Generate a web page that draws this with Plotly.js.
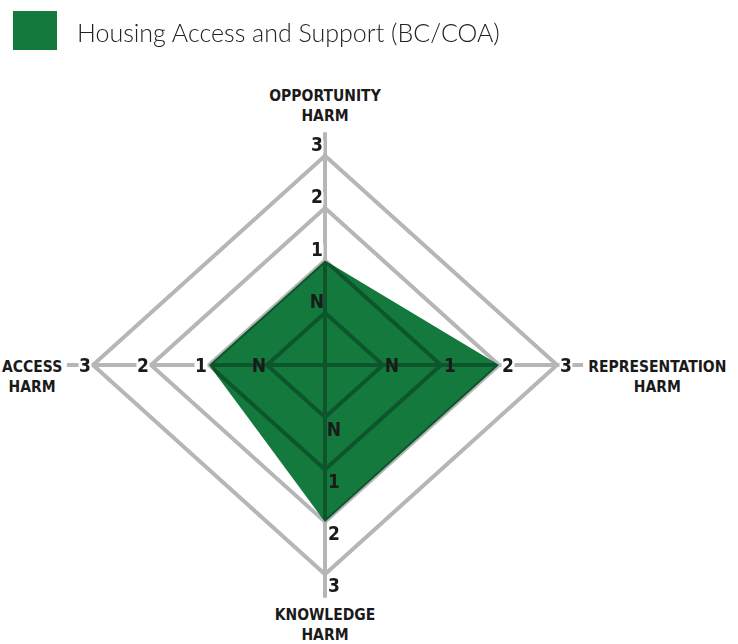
<!DOCTYPE html>
<html>
<head>
<meta charset="utf-8">
<script src="https://cdn.plot.ly/plotly-3.0.1.min.js"></script>
<style>html,body{margin:0;padding:0;background:#fff;}#chart{width:738px;height:644px;}</style>
</head>
<body>
<div id="chart"></div>
<script>
// ---- data ----
const seriesName = 'Housing Access and Support (BC/COA)';
const axisNames = ['OPPORTUNITY<br>HARM', 'REPRESENTATION<br>HARM', 'KNOWLEDGE<br>HARM', 'ACCESS<br>HARM'];
const scores = ['1', '2', '2', '1'];          // level read on each axis
const levelLabels = ['N', '1', '2', '3'];     // tick labels, rings 1..4

// ---- style / layout ----
const GREEN = '#13793d';
const dirs = [[0, 1], [1, 0], [0, -1], [-1, 0]];   // top, right, bottom, left
const PX_X = 58, PX_Y = 52.3;                     // px per unit
const CX = 325, CY = 365;                          // centre in px
const W = 738, H = 644;
const spokeLen = 4.45;
const tickOffsetPx = [[-8, 9.5], [9, -2], [9, -13.5], [-8, -2]];
const titleR = [4.93, 5.73, 5.0, 5.05];
const titleDyPx = [0, -13, 0, -13];
const labelFont = '"Liberation Sans Narrow", "DejaVu Sans Condensed", sans-serif';

const levelOf = s => levelLabels.indexOf(s) + 1;
const vals = scores.map(levelOf);

// filled data polygon
const polyX = [], polyY = [];
vals.forEach((v, i) => { polyX.push(dirs[i][0] * v); polyY.push(dirs[i][1] * v); });
polyX.push(polyX[0]); polyY.push(polyY[0]);

// grid: rings + spokes
const gx = [], gy = [];
levelLabels.forEach((_, k) => {
  const r = k + 1;
  dirs.concat([dirs[0]]).forEach(d => { gx.push(d[0] * r); gy.push(d[1] * r); });
  gx.push(null); gy.push(null);
});
gx.push(0, 0, null, -spokeLen, spokeLen); gy.push(-spokeLen, spokeLen, null, 0, 0);

// tick labels on every axis
const tx = [], ty = [], tt = [], tc = [];
dirs.forEach((d, i) => {
  levelLabels.forEach((lab, k) => {
    const r = k + 1;
    tx.push(d[0] * r + tickOffsetPx[i][0] / PX_X);
    ty.push(d[1] * r + tickOffsetPx[i][1] / PX_Y);
    tt.push(lab);
    tc.push(r >= vals[i] ? '#ffffff' : 'rgba(0,0,0,0)');
  });
});

// axis titles
const ax = dirs.map((d, i) => d[0] * titleR[i]);
const ay = dirs.map((d, i) => d[1] * titleR[i] + titleDyPx[i] / PX_Y);

const traces = [
  { type: 'scatter', x: polyX, y: polyY, mode: 'none', fill: 'toself', fillcolor: GREEN,
    hoverinfo: 'skip', showlegend: false, name: seriesName },
  { type: 'scatter', x: gx, y: gy, mode: 'lines', connectgaps: false,
    line: { color: '#000', width: 4 }, opacity: 0.29, hoverinfo: 'skip', showlegend: false },
  { type: 'scatter', x: tx, y: ty, mode: 'markers+text', text: tt, textposition: 'middle center',
    marker: { symbol: 'square', size: 13, color: tc, line: { width: 0 } },
    textfont: { family: labelFont, size: 19, weight: 'bold', color: '#1a1a1a' },
    hoverinfo: 'skip', showlegend: false, cliponaxis: false },
  { type: 'scatter', x: ax, y: ay, mode: 'text', text: axisNames, textposition: 'middle center',
    textfont: { family: labelFont, size: 15.5, weight: 'bold', color: '#1a1a1a' },
    hoverinfo: 'skip', showlegend: false, cliponaxis: false }
];

const layout = {
  width: W, height: H,
  margin: { l: 0, r: 0, t: 0, b: 0 },
  paper_bgcolor: '#fff', plot_bgcolor: '#fff',
  showlegend: false,
  xaxis: { range: [-CX / PX_X, (W - CX) / PX_X], visible: false, fixedrange: true },
  yaxis: { range: [-(H - CY) / PX_Y, CY / PX_Y], visible: false, fixedrange: true },
  shapes: [{ type: 'rect', xref: 'paper', yref: 'paper',
    x0: 13 / W, x1: 57 / W, y0: 1 - 50 / H, y1: 1 - 11 / H,
    fillcolor: GREEN, line: { width: 0 } }],
  annotations: [{ xref: 'paper', yref: 'paper', x: 75 / W, y: 1 - 32 / H,
    xanchor: 'left', yanchor: 'middle', showarrow: false, text: seriesName,
    font: { family: 'Lato, "Open Sans", sans-serif', size: 25, weight: 300, color: '#222' } }]
};

Plotly.newPlot('chart', traces, layout, { displayModeBar: false, staticPlot: true });
</script>
</body>
</html>
